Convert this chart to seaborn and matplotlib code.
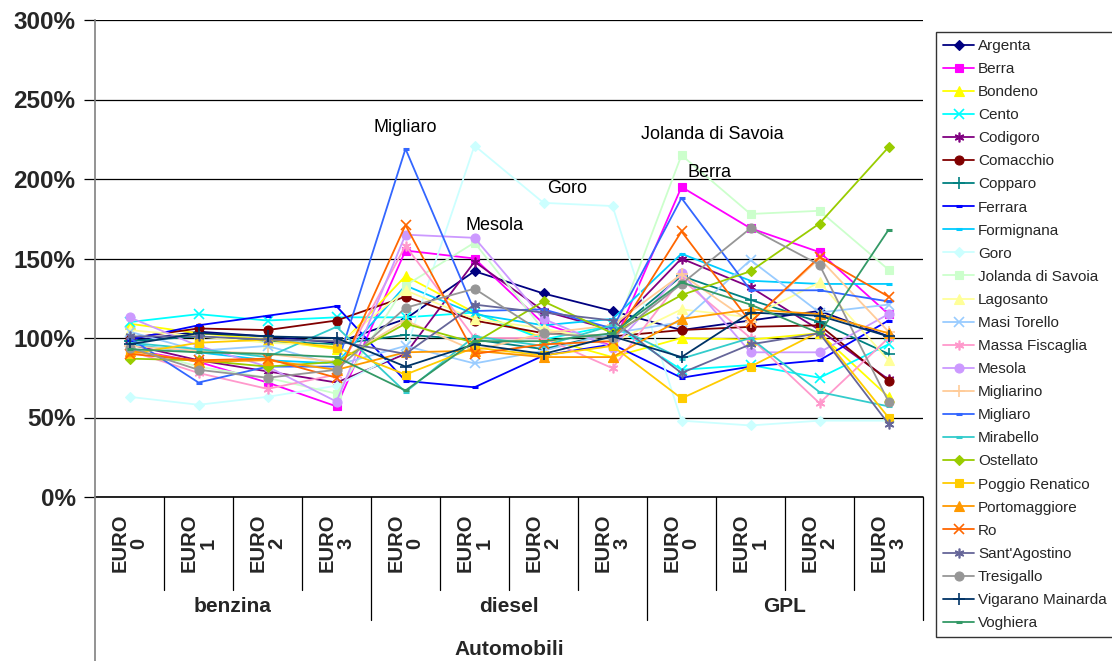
import matplotlib
matplotlib.use("Agg")
import matplotlib.pyplot as plt
import matplotlib.ticker as mticker
from matplotlib.lines import Line2D
import seaborn as sns
import pandas as pd

# Category axis: fuel type / emission class
fuels = ["benzina", "diesel", "GPL"]
classes = ["0", "1", "2", "3"]
tick_labels = [f"EURO\n{c}" for f in fuels for c in classes]
outer_label = "Automobili"

comuni = ["Argenta", "Berra", "Bondeno", "Cento", "Codigoro", "Comacchio", "Copparo",
          "Ferrara", "Formignana", "Goro", "Jolanda di Savoia", "Lagosanto",
          "Masi Torello", "Massa Fiscaglia", "Mesola", "Migliarino", "Migliaro",
          "Mirabello", "Ostellato", "Poggio Renatico", "Portomaggiore", "Ro",
          "Sant'Agostino", "Tresigallo", "Vigarano Mainarda", "Voghiera"]

argenta = [98, 104, 101, 97, 112, 142, 128, 117, 105, 111, 117, 101]
berra = [93, 85, 72, 57, 155, 150, 109, 95, 195, 169, 154, 115]
bondeno = [109, 103, 99, 93, 139, 116, 100, 88, 100, 99, 103, 63]
cento = [110, 115, 111, 113, 113, 116, 99, 108, 80, 83, 75, 96]
codigoro = [96, 86, 79, 72, 90, 148, 117, 105, 150, 132, 105, 74]
comacchio = [100, 106, 105, 111, 126, 111, 103, 101, 105, 107, 108, 73]
copparo = [98, 101, 98, 96, 102, 99, 93, 103, 139, 124, 110, 90]
ferrara = [99, 108, 114, 120, 73, 69, 89, 96, 75, 82, 86, 111]
formignana = [96, 91, 86, 84, 133, 115, 108, 112, 153, 136, 134, 134]
goro = [63, 58, 63, 70, 92, 221, 185, 183, 48, 45, 48, 48]
jolanda = [94, 82, 75, 65, 133, 160, 105, 100, 215, 178, 180, 143]
lagosanto = [105, 101, 97, 95, 130, 112, 106, 97, 118, 113, 135, 86]
masi_torello = [104, 92, 95, 83, 95, 84, 92, 103, 110, 149, 116, 121]
massa_fiscaglia = [92, 78, 68, 77, 158, 100, 100, 81, 137, 100, 59, 100]
mesola = [113, 95, 82, 60, 165, 163, 112, 94, 141, 91, 91, 115]
migliarino = [95, 92, 90, 85, 111, 92, 103, 108, 140, 110, 150, 104]
migliaro = [100, 72, 82, 82, 219, 117, 118, 106, 188, 130, 130, 123]
mirabello = [97, 93, 88, 107, 66, 101, 95, 108, 87, 100, 66, 57]
ostellato = [87, 86, 82, 85, 109, 97, 123, 103, 127, 142, 172, 220]
poggio_renatico = [90, 97, 99, 94, 77, 94, 89, 95, 62, 82, 104, 50]
portomaggiore = [92, 85, 86, 80, 91, 92, 88, 88, 112, 118, 115, 103]
ro = [90, 86, 87, 75, 171, 90, 96, 98, 167, 110, 151, 126]
sant_agostino = [101, 101, 99, 98, 90, 121, 116, 111, 78, 96, 103, 46]
tresigallo = [94, 80, 75, 80, 119, 131, 103, 100, 134, 169, 146, 60]
vigarano = [96, 103, 101, 100, 82, 96, 90, 101, 88, 116, 114, 101]
voghiera = [93, 91, 90, 88, 67, 98, 98, 103, 135, 121, 103, 168]

series = [argenta, berra, bondeno, cento, codigoro, comacchio, copparo, ferrara,
          formignana, goro, jolanda, lagosanto, masi_torello, massa_fiscaglia,
          mesola, migliarino, migliaro, mirabello, ostellato, poggio_renatico,
          portomaggiore, ro, sant_agostino, tresigallo, vigarano, voghiera]

# Named points that carry a text label: (comune, category index, offset in px)
callouts = [("Migliaro", 4, (0, 21)), ("Mesola", 5, (20, 12)), ("Goro", 6, (24, 14)),
            ("Jolanda di Savoia", 8, (31, 21)), ("Berra", 8, (28, 14))]

colors = ["#000080", "#FF00FF", "#FFFF00", "#00FFFF", "#800080", "#800000", "#008080",
          "#0000FF", "#00CCFF", "#CCFFFF", "#CCFFCC", "#FFFF99", "#99CCFF", "#FF99CC",
          "#CC99FF", "#FFCC99", "#3366FF", "#33CCCC", "#99CC00", "#FFCC00", "#FF9900",
          "#FF6600", "#666699", "#969696", "#003366", "#339966"]
asterisk = (6, 2, 0)
markers = ["D", "s", "^", "x", asterisk, "o", "+", "_", "_", "D", "s", "^", "x",
           asterisk, "o", "+", "_", "_", "D", "s", "^", "x", asterisk, "o", "+", "_"]
msizes = {"D": 5, "s": 6, "^": 6.5, "x": 7, "o": 6.5, "+": 8, "_": 5}

rows = []
for name, vals in zip(comuni, series):
    for i, v in enumerate(vals):
        rows.append({"comune": name, "pos": i, "valore": v})
df = pd.DataFrame(rows)

sns.set_theme(style="white")
plt.rcParams["font.family"] = ["Liberation Sans", "DejaVu Sans"]

fig = plt.figure(figsize=(11.12, 6.61), dpi=100)
ax = fig.add_axes([95 / 1112, 1 - 497 / 661, 828 / 1112, 477 / 661])

handles = []
for name, color, mk in zip(comuni, colors, markers):
    key = "*" if mk == asterisk else mk
    ms = 7 if mk == asterisk else msizes[key]
    mew = 2.2 if mk == "_" else (1.2 if mk in ("x", "+", asterisk) else 0.8)
    sub = df[df["comune"] == name]
    sns.lineplot(data=sub, x="pos", y="valore", ax=ax, color=color, marker=mk,
                 markersize=ms, markeredgecolor=color, markerfacecolor=color,
                 markeredgewidth=mew, linewidth=1.3, legend=False, zorder=3)
    handles.append(Line2D([], [], color=color, marker=mk, markersize=ms,
                          markeredgecolor=color, markerfacecolor=color,
                          markeredgewidth=mew, linewidth=1.3, label=name))

for name, idx, off in callouts:
    val = series[comuni.index(name)][idx]
    ax.annotate(name, xy=(idx, val), xytext=off, textcoords="offset pixels",
                ha="center", va="center", fontsize=13, color="black", zorder=5)

ax.set_xlim(-0.5, 11.5)
ax.set_ylim(0, 300)
ax.set_yticks(range(0, 301, 50))
ax.yaxis.set_major_formatter(mticker.FuncFormatter(lambda v, p: f"{int(v)}%"))
ax.yaxis.grid(True, color="black", linewidth=0.9)
ax.set_axisbelow(True)
ax.tick_params(axis="y", which="major", left=True, length=8, width=0.9,
               color="black", labelsize=17.5, pad=6)
for lab in ax.get_yticklabels():
    lab.set_fontweight("bold")

ax.set_xticks(range(12))
ax.set_xticklabels([])
ax.tick_params(axis="x", bottom=False)
ax.set_xlabel("")
ax.set_ylabel("")
for side in ["top", "right", "bottom"]:
    ax.spines[side].set_visible(False)
ax.spines["left"].set_color("#808080")
ax.spines["left"].set_linewidth(1.2)
ax.spines["left"].set_bounds(0, 300)

xtr = ax.get_xaxis_transform()
# first level: emission classes
for i, lab in enumerate(tick_labels):
    ax.text(i, -0.035, lab, transform=xtr, rotation=90, ha="center", va="top",
            multialignment="center", fontsize=14.5, fontweight="bold", linespacing=1.0)
# second level: fuel types
for g, f in enumerate(fuels):
    ax.text(g * 4 + 1.5, -0.23, f, transform=xtr, ha="center", va="center",
            fontsize=15, fontweight="bold")
# third level
ax.text(5.5, -0.32, outer_label, transform=xtr, ha="center", va="center",
        fontsize=15, fontweight="bold")

# category dividers below the axis
ax.plot([-0.5, 11.5], [0, 0], transform=xtr, color="black", lw=1.2, clip_on=False)
for k in range(13):
    xk = k - 0.5
    if k == 0:
        y_end = -0.344
    elif k in (4, 8, 12):
        y_end = -0.258
    else:
        y_end = -0.195
    ax.plot([xk, xk], [0, y_end], transform=xtr, color="#808080" if k == 0 else "black",
            lw=1.2 if k == 0 else 0.9, clip_on=False)

leg = fig.legend(handles=handles, loc="upper left",
                 bbox_to_anchor=(936 / 1112, 1 - 32 / 661), fontsize=11,
                 frameon=True, fancybox=False, shadow=False, handlelength=2.05,
                 handletextpad=0.25, labelspacing=0.595, borderpad=0.45,
                 borderaxespad=0)
leg.get_frame().set_edgecolor("black")
leg.get_frame().set_linewidth(1.0)

fig.savefig("out.png", dpi=100)
